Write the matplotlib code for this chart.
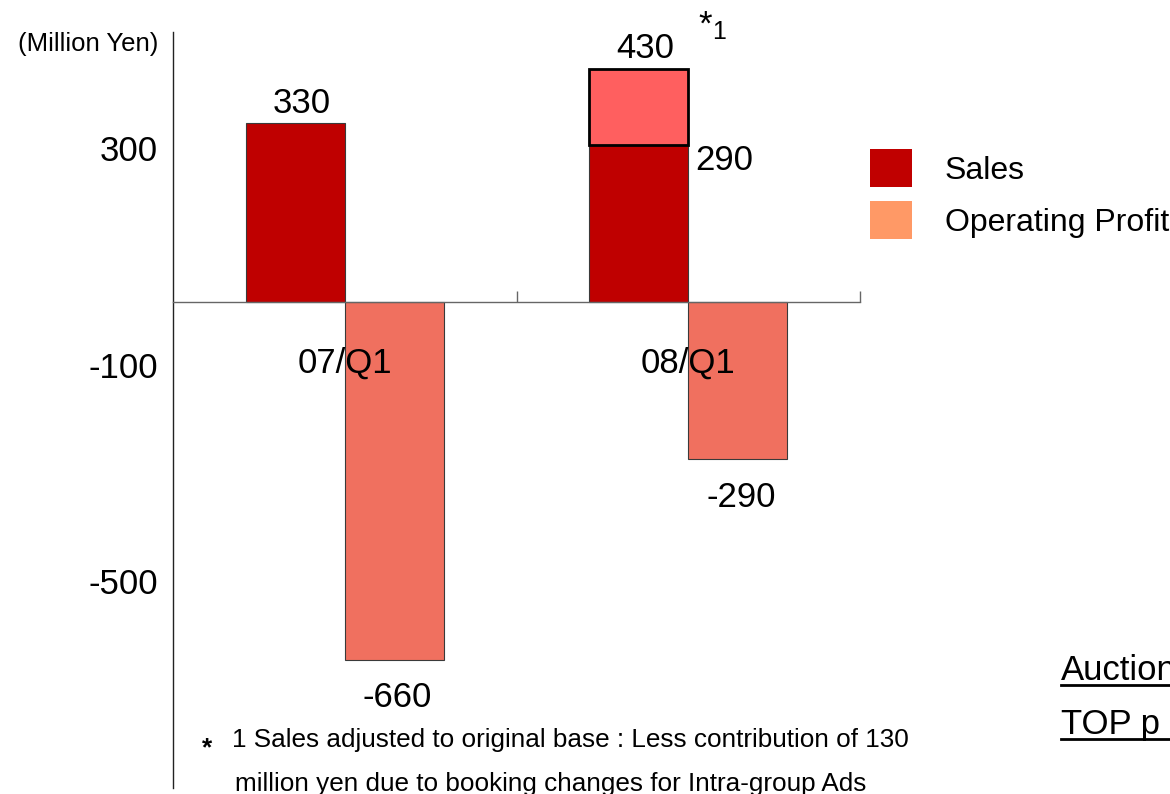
import numpy as np
import matplotlib
matplotlib.use("Agg")
import matplotlib.pyplot as plt
import matplotlib.transforms as mtransforms
from matplotlib.patches import Patch
from matplotlib.lines import Line2D

plt.rcParams['font.family'] = ['Liberation Sans', 'DejaVu Sans']

# Quarterly results (million yen)
quarters = ["07/Q1", "08/Q1"]
sales = [330, 430]
sales_original_base = [330, 290]
operating_profit = [-660, -290]
y_ticks = [300, -100, -500]
y_tick_labels = ["300", "-100", "-500"]

SALES_COLOR = "#BF0000"
EXTRA_COLOR = "#FF5F5F"
OP_COLOR = "#F0705F"
OP_LEGEND_COLOR = "#FF9966"

W, H = 1170, 794
fig = plt.figure(figsize=(W / 100, H / 100), dpi=100)
ax = fig.add_axes([173 / W, (H - 788) / H, (860 - 173) / W, (788 - 32) / H])
ax.set_axisbelow(False)

x = np.arange(len(quarters))
bw = 0.288

# sales on original base, plus the booking-change increment on top
ax.bar(x - bw / 2, sales_original_base, bw, color=SALES_COLOR,
       edgecolor="#3a3a3a", linewidth=0.8, zorder=1)
for i, (s, b) in enumerate(zip(sales, sales_original_base)):
    if s > b:
        ax.bar(x[i] - bw / 2, s - b, bw, bottom=b, color=EXTRA_COLOR,
               edgecolor="black", linewidth=2.0, zorder=1.2)
ax.bar(x + bw / 2, operating_profit, bw, color=OP_COLOR,
       edgecolor="#3a3a3a", linewidth=0.8, zorder=1)

ax.set_xlim(-0.5, 1.5)
ax.set_ylim(-897, 498)

for side in ("top", "right"):
    ax.spines[side].set_visible(False)
ax.spines["bottom"].set_position(("data", 0))
ax.spines["bottom"].set_color("#666666")
ax.spines["bottom"].set_linewidth(1.0)
ax.spines["left"].set_color("#222222")
ax.spines["left"].set_linewidth(1.0)

ax.set_xticks(x)
ax.set_xticklabels(quarters, fontsize=25)
ax.set_xticks([0.5, 1.5], minor=True)
ax.tick_params(axis="x", which="major", length=0, pad=32)
ax.tick_params(axis="x", which="minor", direction="in", length=8,
               color="#666666", width=1.0)

ax.set_yticks(y_ticks)
ax.set_yticklabels(y_tick_labels, fontsize=25)
ax.tick_params(axis="y", length=0, pad=11)
shift = mtransforms.ScaledTranslation(0, -8.5 / 100, fig.dpi_scale_trans)
for lab in ax.get_yticklabels():
    lab.set_transform(lab.get_transform() + shift)

# value labels
for i, s in enumerate(sales):
    ax.annotate(f"{s}", (x[i] - bw / 2, s), xytext=(5, 7.5),
                textcoords="offset points", ha="center", va="baseline",
                fontsize=25)
for i, v in enumerate(operating_profit):
    ax.annotate(f"{v}", (x[i] + bw / 2, v), xytext=(2.5, -34.5),
                textcoords="offset points", ha="center", va="baseline",
                fontsize=25)
for i, (s, b) in enumerate(zip(sales, sales_original_base)):
    if s > b:
        ax.annotate(f"{b}", (x[i], b), xytext=(5, -18.5),
                    textcoords="offset points", ha="left", va="baseline",
                    fontsize=25)
        ax.annotate("*", (x[i] - bw / 2, s), xytext=(43, 25),
                    textcoords="offset points", ha="left", va="baseline",
                    fontsize=25)
        ax.annotate("1", (x[i] - bw / 2, s), xytext=(53, 21.5),
                    textcoords="offset points", ha="left", va="baseline",
                    fontsize=18)

fig.text(158 / W, 1 - 44 / H, "(Million Yen)", ha="right", va="center",
         fontsize=18.5)

handles = [Patch(facecolor="#C00000", edgecolor="none"),
           Patch(facecolor=OP_LEGEND_COLOR, edgecolor="none")]
fig.legend(handles, ["Sales", "Operating Profit"], loc="upper left",
           bbox_to_anchor=(870 / W, 1 - 149 / H), frameon=False, fontsize=23,
           handlelength=1.31, handleheight=1.454, handletextpad=1.03,
           labelspacing=0.44, borderpad=0, borderaxespad=0)

# footnote
fig.text(202 / W, 1 - 755 / H, "*", fontsize=19, fontweight="bold",
         ha="left", va="baseline")
fig.text(232 / W, 1 - 747 / H,
         "1 Sales adjusted to original base : Less contribution of 130",
         fontsize=18.8, ha="left", va="baseline")
fig.text(235 / W, 1 - 791 / H,
         "million yen due to booking changes for Intra-group Ads",
         fontsize=18.8, ha="left", va="baseline")

# links at the right edge
for txt, base, uline in (("Auction", 680, 685), ("TOP p", 734, 738.5)):
    fig.text(1061 / W, 1 - base / H, txt, fontsize=25, ha="left",
             va="baseline")
    fig.add_artist(Line2D([1061 / W, 1.0], [1 - uline / H, 1 - uline / H],
                          transform=fig.transFigure, color="black",
                          linewidth=2.0))

fig.savefig("out.png", dpi=100)
